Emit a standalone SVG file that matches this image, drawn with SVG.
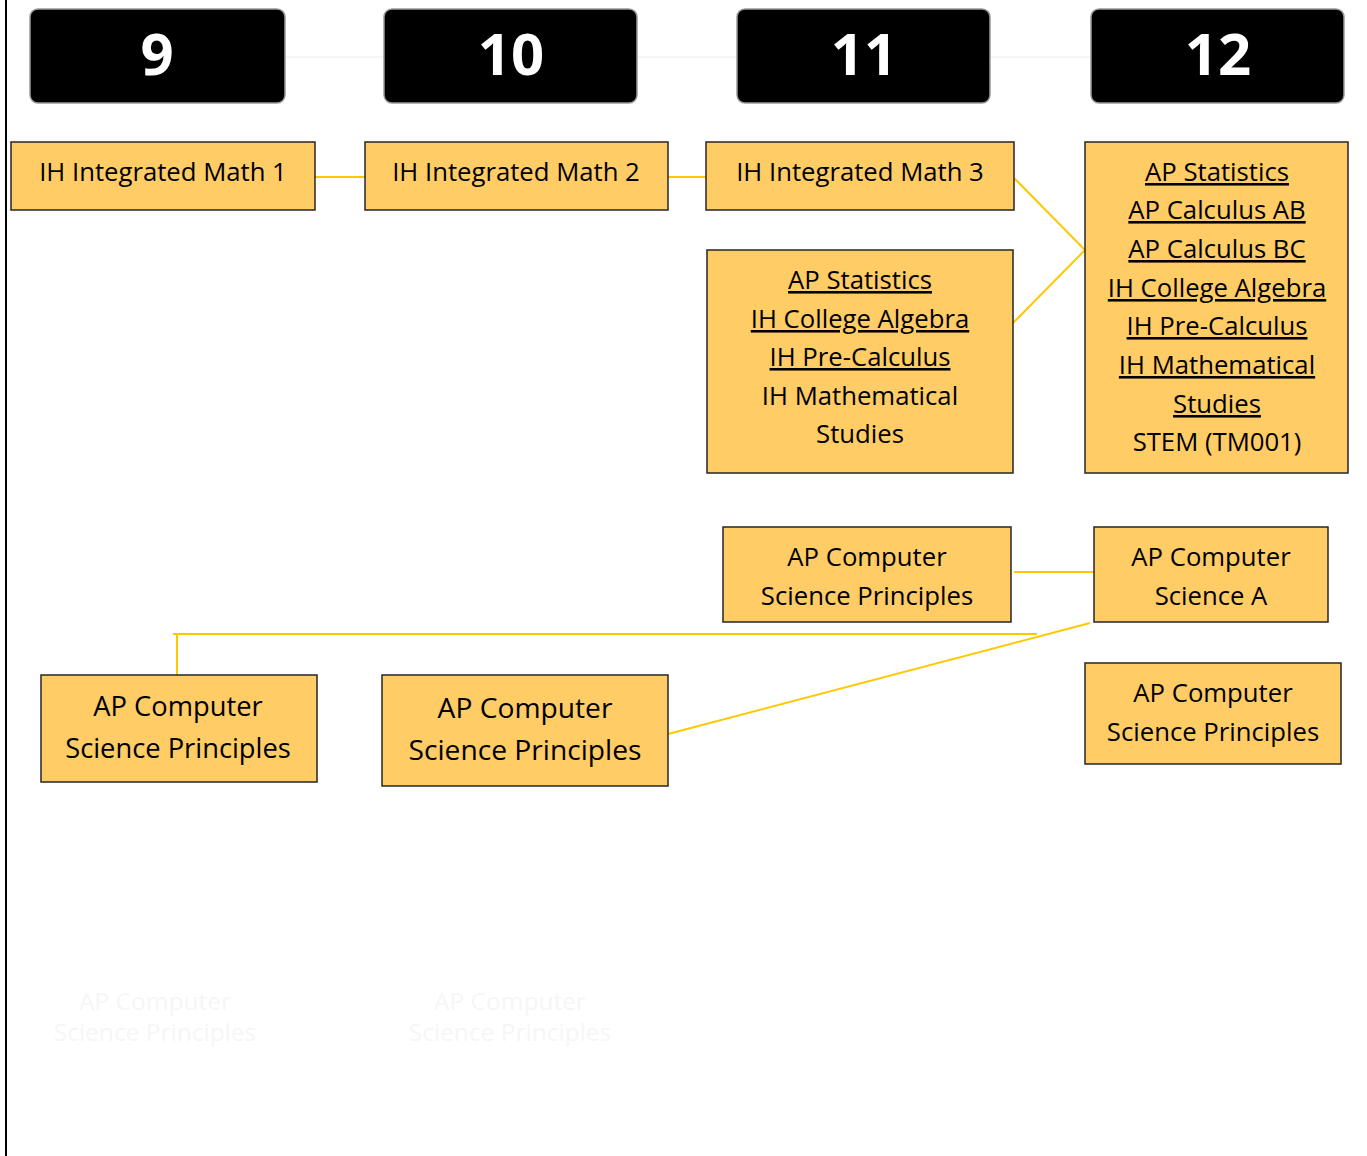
<svg xmlns="http://www.w3.org/2000/svg" width="1367" height="1156" viewBox="0 0 1367 1156">
<style>
.hdr{fill:#000;stroke:#9a9a9a;stroke-width:1.5}
.hnum{font-family:"Open Sans","Noto Sans",sans-serif;font-weight:bold;font-size:58px;fill:#fff;text-anchor:middle}
.box{fill:#FFCC66;stroke:#262626;stroke-width:1.5}
.t{font-family:"Open Sans","Noto Sans",sans-serif;font-size:25.7px;fill:#000;text-anchor:middle}
.t9{font-size:27.3px}
.t10{font-size:28.2px}
.u{text-decoration:underline}
.c{fill:none;stroke:#FFC800;stroke-width:2}
.faint{font-family:"Open Sans","Noto Sans",sans-serif;font-size:24.5px;fill:#f6f6f6;text-anchor:middle}
</style>
<rect x="0" y="0" width="1367" height="1156" fill="#fff"/>
<line x1="6" y1="0" x2="6" y2="1156" stroke="#000" stroke-width="2"/>
<g id="connectors">
<line x1="285" y1="57" x2="1092" y2="57" stroke="#f2f2f2" stroke-width="1.5"/>
<line class="c" x1="315" y1="177" x2="365" y2="177"/>
<line class="c" x1="668" y1="177" x2="706" y2="177"/>
<polyline class="c" points="1014,178 1085,250 1013,323"/>
<line class="c" x1="1014" y1="572" x2="1094" y2="572"/>
<line class="c" x1="1090" y1="623" x2="668" y2="734"/>
<polyline class="c" points="1037,634 173,634"/>
<line class="c" x1="177" y1="634" x2="177" y2="675"/>
</g>
<g id="g9"><rect class="hdr" x="30" y="9" width="255" height="94" rx="8"/><text class="hnum" x="157" y="75">9</text></g>
<g id="g10"><rect class="hdr" x="384" y="9" width="253" height="94" rx="8"/><text class="hnum" x="511" y="75">10</text></g>
<g id="g11"><rect class="hdr" x="737" y="9" width="253" height="94" rx="8"/><text class="hnum" x="864" y="75">11</text></g>
<g id="g12"><rect class="hdr" x="1091" y="9" width="253" height="94" rx="8"/><text class="hnum" x="1218" y="75">12</text></g>
<g id="m1"><rect class="box" x="11" y="142" width="304" height="68"/><text class="t" x="163" y="181">IH Integrated Math 1</text></g>
<g id="m2"><rect class="box" x="365" y="142" width="303" height="68"/><text class="t" x="516" y="181">IH Integrated Math 2</text></g>
<g id="m3"><rect class="box" x="706" y="142" width="308" height="68"/><text class="t" x="860" y="181">IH Integrated Math 3</text></g>
<g id="adv11"><rect class="box" x="707" y="250" width="306" height="223"/>
<text class="t u" x="860" y="289">AP Statistics</text>
<text class="t u" x="860" y="328">IH College Algebra</text>
<text class="t u" x="860" y="366">IH Pre-Calculus</text>
<text class="t" x="860" y="405">IH Mathematical</text>
<text class="t" x="860" y="443">Studies</text></g>
<g id="adv12"><rect class="box" x="1085" y="142" width="263" height="331"/>
<text class="t u" x="1217" y="181">AP Statistics</text>
<text class="t u" x="1217" y="219">AP Calculus AB</text>
<text class="t u" x="1217" y="258">AP Calculus BC</text>
<text class="t u" x="1217" y="297">IH College Algebra</text>
<text class="t u" x="1217" y="335">IH Pre-Calculus</text>
<text class="t u" x="1217" y="374">IH Mathematical</text>
<text class="t u" x="1217" y="413">Studies</text>
<text class="t" x="1217" y="451">STEM (TM001)</text></g>
<g id="csp11"><rect class="box" x="723" y="527" width="288" height="95"/><text class="t" x="867" y="566">AP Computer</text><text class="t" x="867" y="605">Science Principles</text></g>
<g id="csa12"><rect class="box" x="1094" y="527" width="234" height="95"/><text class="t" x="1211" y="566">AP Computer</text><text class="t" x="1211" y="605">Science A</text></g>
<g id="csp12"><rect class="box" x="1085" y="663" width="256" height="101"/><text class="t" x="1213" y="702">AP Computer</text><text class="t" x="1213" y="741">Science Principles</text></g>
<g id="csp9"><rect class="box" x="41" y="675" width="276" height="107"/><text class="t t9" x="178" y="716">AP Computer</text><text class="t t9" x="178" y="758">Science Principles</text></g>
<g id="csp10"><rect class="box" x="382" y="675" width="286" height="111"/><text class="t t10" x="525" y="718">AP Computer</text><text class="t t10" x="525" y="760">Science Principles</text></g>
<g id="faint9"><text class="faint" x="155" y="1010">AP Computer</text><text class="faint" x="155" y="1041">Science Principles</text></g>
<g id="faint10"><text class="faint" x="510" y="1010">AP Computer</text><text class="faint" x="510" y="1041">Science Principles</text></g>
</svg>
